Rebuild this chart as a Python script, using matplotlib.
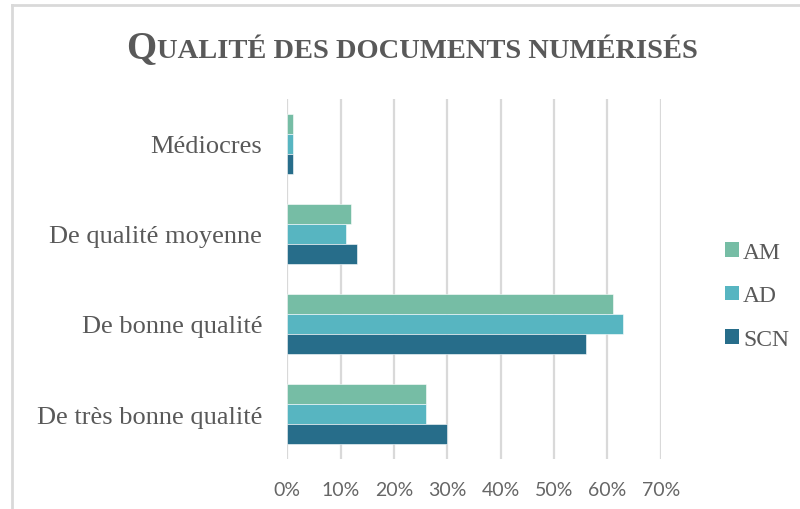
import matplotlib
matplotlib.use("Agg")
import matplotlib.pyplot as plt
import numpy as np
from matplotlib.lines import Line2D
from matplotlib.offsetbox import TextArea, HPacker, AnchoredOffsetbox
from matplotlib.patches import Patch

# Share of documents per quality level (%)
categories = ["Médiocres", "De qualité moyenne", "De bonne qualité", "De très bonne qualité"]
series = ["AM", "AD", "SCN"]
am = [1, 12, 61, 26]
ad = [1, 11, 63, 26]
scn = [1, 13, 56, 30]
xticks = [0, 10, 20, 30, 40, 50, 60, 70]

COLORS = ["#76BDA5", "#57B5C1", "#276D8A"]
TEXT = "#595959"
GRID = "#D9D9D9"
SERIF = "Liberation Serif"

fig = plt.figure(figsize=(8.0, 5.1), dpi=100)
ax = fig.add_axes([0.359, 0.098, 0.467, 0.706])

y = np.arange(len(categories))
h = 0.222
for k, (vals, col, name) in enumerate(zip([am, ad, scn], COLORS, series)):
    ax.barh(y + (k - 1) * h, vals, height=h, color=col, label=name,
            edgecolor="white", linewidth=0.4, zorder=3)

ax.set_xlim(0, 70)
ax.set_ylim(len(categories) - 0.5, -0.5)
ax.set_xticks(xticks)
ax.set_xticklabels([f"{v}%" for v in xticks], fontsize=14, color="#666666",
                   family="Lato")
ax.set_yticks(y)
ax.set_yticklabels(categories, fontsize=19, color=TEXT, family=SERIF)
ax.tick_params(axis="both", length=0)
ax.tick_params(axis="x", pad=16)
ax.tick_params(axis="y", pad=18)
ax.grid(axis="x", color=GRID, linewidth=1.6, zorder=0)
for s in ax.spines.values():
    s.set_visible(False)

handles = [Patch(facecolor=c, label=n) for c, n in zip(COLORS, series)]
fig.legend(handles=handles, loc="center left", bbox_to_anchor=(0.88, 0.418),
           frameon=False, handlelength=0.6, handleheight=0.6,
           handletextpad=0.15, labelspacing=0.95,
           prop={"family": SERIF, "size": 17}, labelcolor=TEXT)

# title in small caps: large initial, smaller remaining capitals
big = TextArea("Q", textprops=dict(family=SERIF, size=28, color=TEXT,
                                   weight="bold"))
rest = TextArea("UALITÉ DES DOCUMENTS NUMÉRISÉS",
                textprops=dict(family=SERIF, size=20.5, color=TEXT,
                               weight="bold"))
title = HPacker(children=[big, rest], align="baseline", pad=0, sep=0)
fig.add_artist(AnchoredOffsetbox(loc="center", child=title, frameon=False,
                                 bbox_to_anchor=(0.515, 0.905),
                                 bbox_transform=fig.transFigure, pad=0,
                                 borderpad=0))

# chart frame edges
fig.add_artist(Line2D([0.015, 0.015], [0.0, 0.988], transform=fig.transFigure,
                      color=GRID, linewidth=2))
fig.add_artist(Line2D([0.015, 1.0], [0.988, 0.988], transform=fig.transFigure,
                      color=GRID, linewidth=2))

fig.savefig("out.png", dpi=100, facecolor="white")
